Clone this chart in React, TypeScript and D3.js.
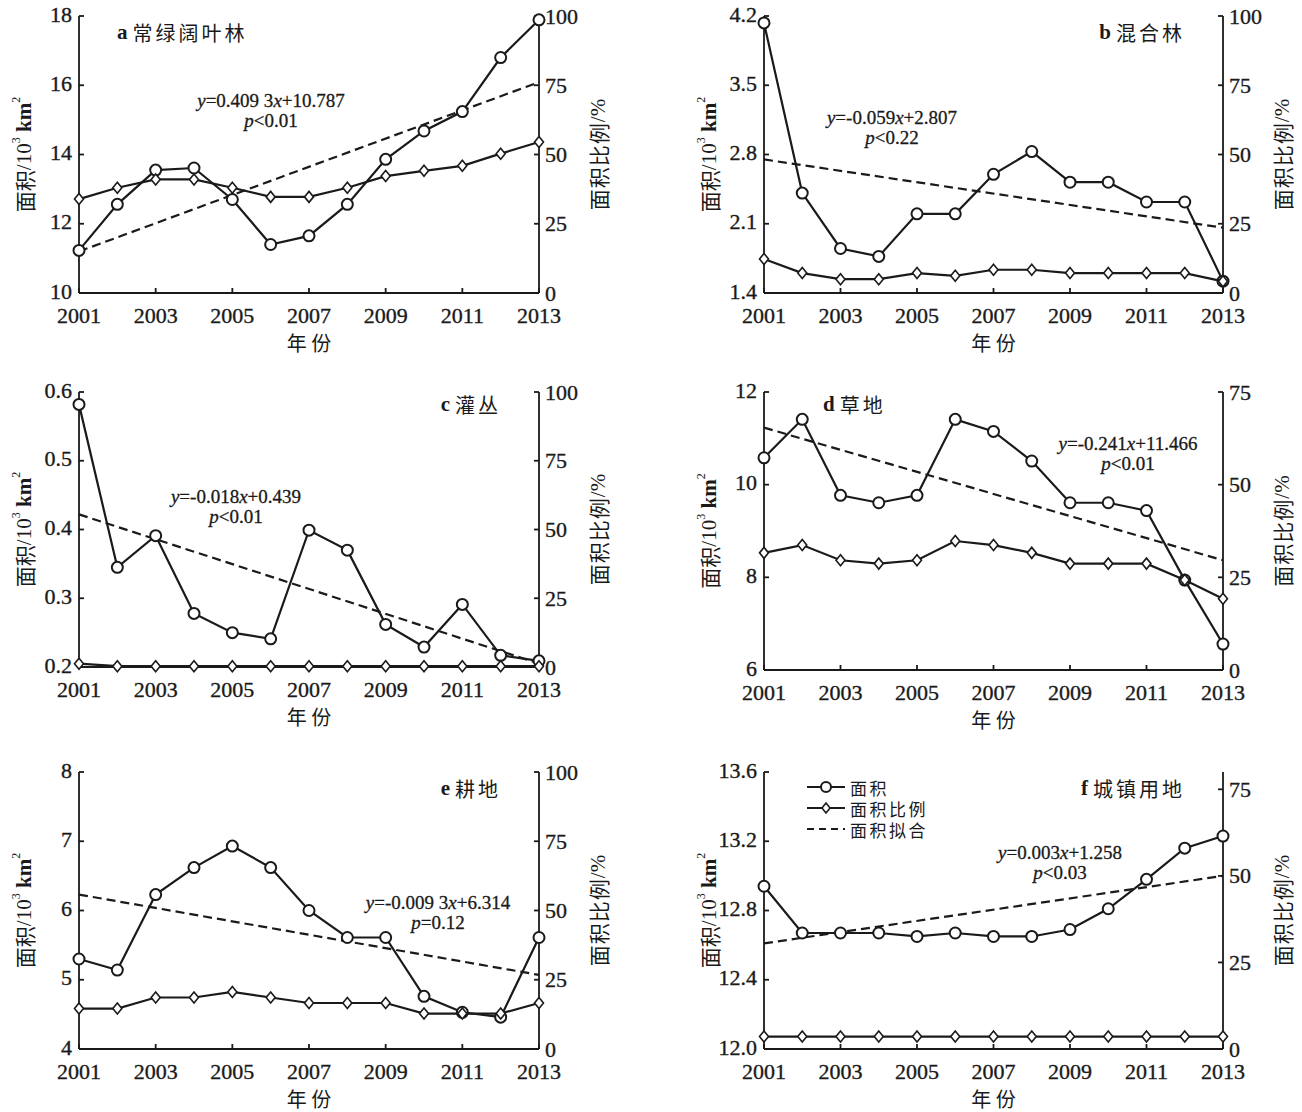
import React from 'react';
import * as d3 from 'd3';

// years on the x axis
const years = [2001, 2002, 2003, 2004, 2005, 2006, 2007, 2008, 2009, 2010, 2011, 2012, 2013];
const yearTicks = [2001, 2003, 2005, 2007, 2009, 2011, 2013];

// 面积 (10^3 km^2), 面积比例 (%), 面积拟合 (value at 2001, value at 2013)
const areaA = [11.23, 12.56, 13.55, 13.61, 12.7, 11.4, 11.65, 12.56, 13.86, 14.68, 15.24, 16.8, 17.89];
const ratioA = [33.9, 38, 41, 41, 38, 34.7, 34.7, 38, 42.2, 44.1, 45.9, 50.3, 54.5];
const fitA = [11.2, 16.09];

const areaB = [4.13, 2.41, 1.85, 1.77, 2.2, 2.2, 2.6, 2.83, 2.52, 2.52, 2.32, 2.32, 1.52];
const ratioB = [12.3, 7.2, 5.0, 5.0, 7.2, 6.2, 8.4, 8.4, 7.2, 7.2, 7.2, 7.2, 4.2];
const fitB = [2.75, 2.06];

const areaC = [0.582, 0.345, 0.391, 0.278, 0.25, 0.241, 0.399, 0.37, 0.262, 0.229, 0.291, 0.217, 0.209];
const ratioC = [1.2, 0.3, 0.3, 0.3, 0.3, 0.3, 0.3, 0.3, 0.3, 0.3, 0.3, 0.3, 0.3];
const fitC = [0.422, 0.205];

const areaD = [10.58, 11.41, 9.77, 9.61, 9.77, 11.41, 11.15, 10.51, 9.61, 9.61, 9.44, 7.94, 6.56];
const ratioD = [31.6, 33.7, 29.6, 28.7, 29.6, 34.8, 33.7, 31.6, 28.7, 28.7, 28.7, 24.3, 19.2];
const fitD = [11.23, 8.37];

const areaE = [5.3, 5.14, 6.23, 6.62, 6.93, 6.62, 6.0, 5.61, 5.61, 4.76, 4.53, 4.46, 5.61];
const ratioE = [14.6, 14.6, 18.6, 18.6, 20.6, 18.6, 16.6, 16.6, 16.6, 12.8, 12.8, 12.8, 16.6];
const fitE = [6.23, 5.07];

const areaF = [12.94, 12.67, 12.67, 12.67, 12.65, 12.67, 12.65, 12.65, 12.69, 12.81, 12.98, 13.16, 13.23];
const ratioF = [3.6, 3.6, 3.6, 3.6, 3.6, 3.6, 3.6, 3.6, 3.6, 3.6, 3.6, 3.6, 3.6];
const fitF = [12.61, 13.0];

// tick labels
const ticksA = [10, 12, 14, 16, 18];
const ticksB = [1.4, 2.1, 2.8, 3.5, 4.2];
const ticksC = [0.2, 0.3, 0.4, 0.5, 0.6];
const ticksD = [6, 8, 10, 12];
const ticksE = [4, 5, 6, 7, 8];
const ticksF = [12.0, 12.4, 12.8, 13.2, 13.6];
const ratioTicks = [0, 25, 50, 75, 100];
const ratioTicksShort = [0, 25, 50, 75];

// regression labels
const eqA = ['=0.409 3', '+10.787'];
const eqB = ['=-0.059', '+2.807'];
const eqC = ['=-0.018', '+0.439'];
const eqD = ['=-0.241', '+11.466'];
const eqE = ['=-0.009 3', '+6.314'];
const eqF = ['=0.003', '+1.258'];
const pA = '<0.01', pB = '<0.22', pC = '<0.01', pD = '<0.01', pE = '=0.12', pF = '<0.03';

const titles = ['常绿阔叶林', '混合林', '灌丛', '草地', '耕地', '城镇用地'];
const legendLabels = ['面积', '面积比例', '面积拟合'];

const serif = "'Liberation Serif', 'Times New Roman', serif";
const cjk = "'Noto Sans CJK SC', 'Noto Sans CJK JP', sans-serif";
const ink = '#1a1a1a';

const L = { x0: 79, x1: 539 };
const R = { x0: 764, x1: 1223 };

const panels = [
  { letter: 'a', title: titles[0], area: areaA, ratio: ratioA, fit: fitA, yDomain: [10, 18], yTicks: ticksA, fmt: '', rDomain: [0, 100], rTicks: ratioTicks, eq: eqA, p: pA, ...L, y0: 16, y1: 293, titleAt: 'left', titleY: 32, eqX: 271, eqY: 100 },
  { letter: 'b', title: titles[1], area: areaB, ratio: ratioB, fit: fitB, yDomain: [1.4, 4.2], yTicks: ticksB, fmt: '.1f', rDomain: [0, 100], rTicks: ratioTicks, eq: eqB, p: pB, ...R, y0: 16, y1: 293, titleAt: 'right', titleY: 32, eqX: 892, eqY: 117 },
  { letter: 'c', title: titles[2], area: areaC, ratio: ratioC, fit: fitC, yDomain: [0.2, 0.6], yTicks: ticksC, fmt: '.1f', rDomain: [0, 100], rTicks: ratioTicks, eq: eqC, p: pC, ...L, y0: 392, y1: 667, titleAt: 'right', titleY: 404, eqX: 236, eqY: 496 },
  { letter: 'd', title: titles[3], area: areaD, ratio: ratioD, fit: fitD, yDomain: [6, 12], yTicks: ticksD, fmt: '', rDomain: [0, 75], rTicks: ratioTicksShort, eq: eqD, p: pD, ...R, y0: 392, y1: 670, titleAt: 'left', titleY: 404, eqX: 1128, eqY: 443 },
  { letter: 'e', title: titles[4], area: areaE, ratio: ratioE, fit: fitE, yDomain: [4, 8], yTicks: ticksE, fmt: '', rDomain: [0, 100], rTicks: ratioTicks, eq: eqE, p: pE, ...L, y0: 772, y1: 1049, titleAt: 'right', titleY: 788, eqX: 438, eqY: 902 },
  { letter: 'f', title: titles[5], area: areaF, ratio: ratioF, fit: fitF, yDomain: [12, 13.6], yTicks: ticksF, fmt: '.1f', rDomain: [0, 80], rTicks: ratioTicksShort, eq: eqF, p: pF, ...R, y0: 772, y1: 1049, titleAt: 'right', titleY: 788, eqX: 1060, eqY: 852, legend: true },
];

const diamond = (cx: number, cy: number, w = 4.5, h = 5.5) =>
  `M${cx},${cy - h}L${cx + w},${cy}L${cx},${cy + h}L${cx - w},${cy}Z`;

function Panel({ p }: { p: any }) {
  const x = d3.scaleLinear().domain([years[0], years[years.length - 1]]).range([p.x0, p.x1]);
  const y = d3.scaleLinear().domain(p.yDomain).range([p.y1, p.y0]);
  const r = d3.scaleLinear().domain(p.rDomain).range([p.y1, p.y0]);
  const fmt = p.fmt ? d3.format(p.fmt) : (v: number) => String(v);

  const areaPath = d3.line<number>().x((_, i) => x(years[i])).y(d => y(d))(p.area) || '';
  const ratioPath = d3.line<number>().x((_, i) => x(years[i])).y(d => r(d))(p.ratio) || '';
  const fitPath = d3.line<number>().x((_, i) => x(i === 0 ? years[0] : years[years.length - 1])).y(d => y(d))(p.fit) || '';

  const midY = (p.y0 + p.y1) / 2;
  const midX = (p.x0 + p.x1) / 2;
  const tx = p.titleAt === 'left' ? p.x0 + (p.letter === 'd' ? 59 : 38) : p.x1 - 38;

  return (
    <g>
      {/* axes */}
      <g stroke={ink} strokeWidth={1.8} fill="none">
        <line x1={p.x0} y1={p.y0} x2={p.x0} y2={p.y1} />
        <line x1={p.x1} y1={p.y0} x2={p.x1} y2={p.y1} />
        <line x1={p.x0} y1={p.y1} x2={p.x1} y2={p.y1} />
        {p.yTicks.map((t: number) => <line key={'l' + t} x1={p.x0} x2={p.x0 + 5} y1={y(t)} y2={y(t)} />)}
        {p.rTicks.map((t: number) => <line key={'r' + t} x1={p.x1} x2={p.x1 - 5} y1={r(t)} y2={r(t)} />)}
        {yearTicks.map(t => <line key={'x' + t} x1={x(t)} x2={x(t)} y1={p.y1} y2={p.y1 - 5} />)}
      </g>
      <g fontFamily={serif} fontSize={22} fill={ink} stroke={ink} strokeWidth={0.35}>
        {p.yTicks.map((t: number) => (
          <text key={'lt' + t} x={p.x0 - 7} y={y(t) - 2} textAnchor="end" dominantBaseline="central">{fmt(t)}</text>
        ))}
        {p.rTicks.map((t: number) => (
          <text key={'rt' + t} x={p.x1 + 6} y={r(t)} textAnchor="start" dominantBaseline="central">{t}</text>
        ))}
        {yearTicks.map(t => (
          <text key={'xt' + t} x={x(t)} y={p.y1 + 22} textAnchor="middle" dominantBaseline="central">{t}</text>
        ))}
      </g>
      {/* axis titles */}
      <text x={midX} y={p.y1 + 49} textAnchor="middle" dominantBaseline="central" fontFamily={cjk} fontSize={20} fill={ink}>年 份</text>
      <text transform={`translate(${p.x0 - 55},${midY}) rotate(-90)`} textAnchor="middle" dominantBaseline="central" fontSize={21} fill={ink}>
        <tspan fontFamily={cjk}>面积</tspan>
        <tspan fontFamily={serif}>/10</tspan>
        <tspan fontFamily={serif} fontSize={12} dy={-8}>3</tspan>
        <tspan fontFamily={serif} fontWeight="bold" dy={8}> km</tspan>
        <tspan fontFamily={serif} fontSize={12} dy={-8}>2</tspan>
      </text>
      <text transform={`translate(${p.x1 + 59},${midY}) rotate(-90)`} textAnchor="middle" dominantBaseline="central" fontSize={21} fill={ink}>
        <tspan fontFamily={cjk} letterSpacing={1}>面积比例</tspan>
        <tspan fontFamily={serif}>/%</tspan>
      </text>
      {/* panel title */}
      <text x={tx} y={p.titleY} textAnchor={p.titleAt === 'left' ? 'start' : 'end'} dominantBaseline="central" fill={ink}>
        <tspan fontFamily={serif} fontWeight="bold" fontSize={21}>{p.letter}</tspan>
        <tspan fontFamily={cjk} fontSize={20} dx={5} letterSpacing={3}>{p.title}</tspan>
      </text>
      {/* regression text */}
      <g fontFamily={serif} fontSize={19} fill={ink} stroke={ink} strokeWidth={0.3} textAnchor="middle">
        <text x={p.eqX} y={p.eqY} dominantBaseline="central">
          <tspan fontStyle="italic">y</tspan>{p.eq[0]}<tspan fontStyle="italic">x</tspan>{p.eq[1]}
        </text>
        <text x={p.eqX} y={p.eqY + 20} dominantBaseline="central">
          <tspan fontStyle="italic">p</tspan>{p.p}
        </text>
      </g>
      {/* series */}
      <path d={fitPath} fill="none" stroke={ink} strokeWidth={2.2} strokeDasharray="9,5" />
      <path d={areaPath} fill="none" stroke={ink} strokeWidth={2.2} />
      {p.area.map((v: number, i: number) => (
        <circle key={'c' + i} cx={x(years[i])} cy={y(v)} r={5.5} fill="#fff" stroke={ink} strokeWidth={2} />
      ))}
      <path d={ratioPath} fill="none" stroke={ink} strokeWidth={2.2} />
      {p.ratio.map((v: number, i: number) => (
        <path key={'d' + i} d={diamond(x(years[i]), r(v))} fill="#fff" stroke={ink} strokeWidth={1.6} />
      ))}
      {p.legend && (
        <g>
          {legendLabels.map((lab, i) => {
            const ly = 787 + i * 21;
            return (
              <g key={lab}>
                <line x1={807} x2={845} y1={ly} y2={ly} stroke={ink} strokeWidth={2.2} strokeDasharray={i === 2 ? '7,5' : undefined} />
                {i === 0 && <circle cx={826} cy={ly} r={5} fill="#fff" stroke={ink} strokeWidth={2} />}
                {i === 1 && <path d={diamond(826, ly, 4, 5)} fill="#fff" stroke={ink} strokeWidth={1.6} />}
                <text x={850} y={ly} dominantBaseline="central" fontFamily={cjk} fontSize={17} letterSpacing={2.5} fill={ink}>{lab}</text>
              </g>
            );
          })}
        </g>
      )}
    </g>
  );
}

export default function App() {
  return (
    <svg width={1302} height={1112} style={{ position: 'absolute', left: 0, top: 0, background: '#fff' }}>
      <rect width={1302} height={1112} fill="#fff" />
      {panels.map(p => <Panel key={p.letter} p={p} />)}
    </svg>
  );
}
